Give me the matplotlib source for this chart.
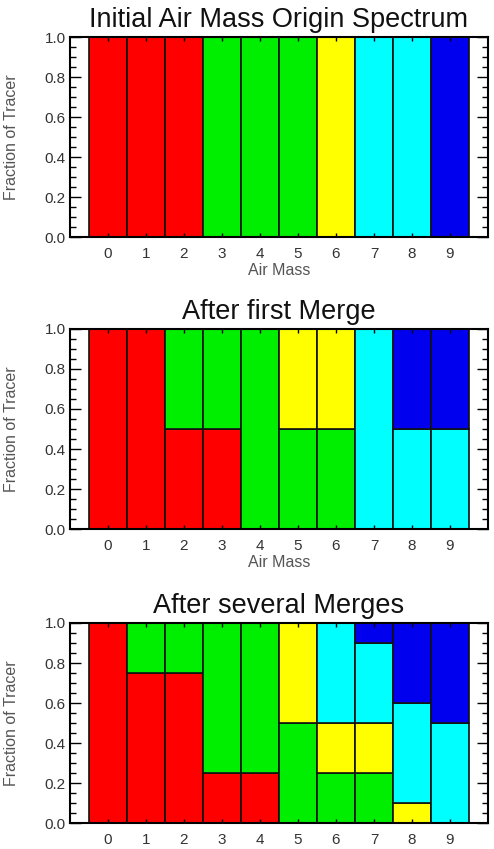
import numpy as np
import matplotlib
matplotlib.use("Agg")
from matplotlib import pyplot as plt

air_mass = [0, 1, 2, 3, 4, 5, 6, 7, 8, 9]
titles = ["Initial Air Mass Origin Spectrum", "After first Merge", "After several Merges"]
origin_colors = ["#ff0000", "#00ee00", "#ffff00", "#00ffff", "#0000ee"]
y_ticks = [0.0, 0.2, 0.4, 0.6, 0.8, 1.0]
y_minor = [0.05, 0.1, 0.15, 0.25, 0.3, 0.35, 0.45, 0.5, 0.55,
           0.65, 0.7, 0.75, 0.85, 0.9, 0.95]

# fraction of each origin (red, green, yellow, cyan, blue) in every air mass
initial = [
    [1, 1, 1, 0, 0, 0, 0, 0, 0, 0],
    [0, 0, 0, 1, 1, 1, 0, 0, 0, 0],
    [0, 0, 0, 0, 0, 0, 1, 0, 0, 0],
    [0, 0, 0, 0, 0, 0, 0, 1, 1, 0],
    [0, 0, 0, 0, 0, 0, 0, 0, 0, 1],
]
first_merge = [
    [1, 1, 0.5, 0.5, 0, 0, 0, 0, 0, 0],
    [0, 0, 0.5, 0.5, 1, 0.5, 0.5, 0, 0, 0],
    [0, 0, 0, 0, 0, 0.5, 0.5, 0, 0, 0],
    [0, 0, 0, 0, 0, 0, 0, 1, 0.5, 0.5],
    [0, 0, 0, 0, 0, 0, 0, 0, 0.5, 0.5],
]
several_merges = [
    [1, 0.75, 0.75, 0.25, 0.25, 0, 0, 0, 0, 0],
    [0, 0.25, 0.25, 0.75, 0.75, 0.5, 0.25, 0.25, 0, 0],
    [0, 0, 0, 0, 0, 0.5, 0.25, 0.25, 0.1, 0],
    [0, 0, 0, 0, 0, 0, 0.5, 0.4, 0.5, 0.5],
    [0, 0, 0, 0, 0, 0, 0, 0.1, 0.4, 0.5],
]
panels = [initial, first_merge, several_merges]

plt.rcParams['font.family'] = ['Liberation Sans', 'DejaVu Sans']

fig = plt.figure(figsize=(4.94, 8.49), dpi=100)
bottoms = [0.7208, 0.3769, 0.0306]

for i, (data, title) in enumerate(zip(panels, titles)):
    ax = fig.add_axes([0.1417, bottoms[i], 0.846, 0.2356])
    base = np.zeros(len(air_mass))
    for frac, col in zip(data, origin_colors):
        frac = np.array(frac, dtype=float)
        ax.bar(air_mass, frac, width=1.0, bottom=base, color=col,
               edgecolor="#111111", linewidth=1.2, zorder=1)
        base += frac
    ax.set_xlim(-1, 10)
    ax.set_ylim(0, 1)
    ax.set_xticks(air_mass)
    ax.set_yticks(y_ticks)
    ax.set_yticks(y_minor, minor=True)
    ax.set_yticklabels(["%.1f" % v for v in y_ticks])
    ax.tick_params(axis="y", which="major", direction="in", length=8, width=1,
                   left=True, right=True, labelsize=11, labelcolor="#333333", pad=3)
    ax.tick_params(axis="y", which="minor", direction="in", length=4, width=1,
                   left=True, right=True)
    ax.tick_params(axis="x", which="major", direction="in", length=3, width=1,
                   top=True, bottom=True, labelsize=11, labelcolor="#333333", pad=7)
    for s in ax.spines.values():
        s.set_linewidth(1.5)
        s.set_zorder(3)
    ax.set_title(title, fontsize=19.5, color="#111111", pad=7)
    ax.set_ylabel("Fraction of Tracer", fontsize=11.5, color="#555555")
    ax.yaxis.set_label_coords(-0.122, 0.5)
    if i < 2:
        ax.set_xlabel("Air Mass", fontsize=11.5, color="#555555")
        ax.xaxis.set_label_coords(0.5, -0.13)

fig.savefig("out.png", dpi=100)
